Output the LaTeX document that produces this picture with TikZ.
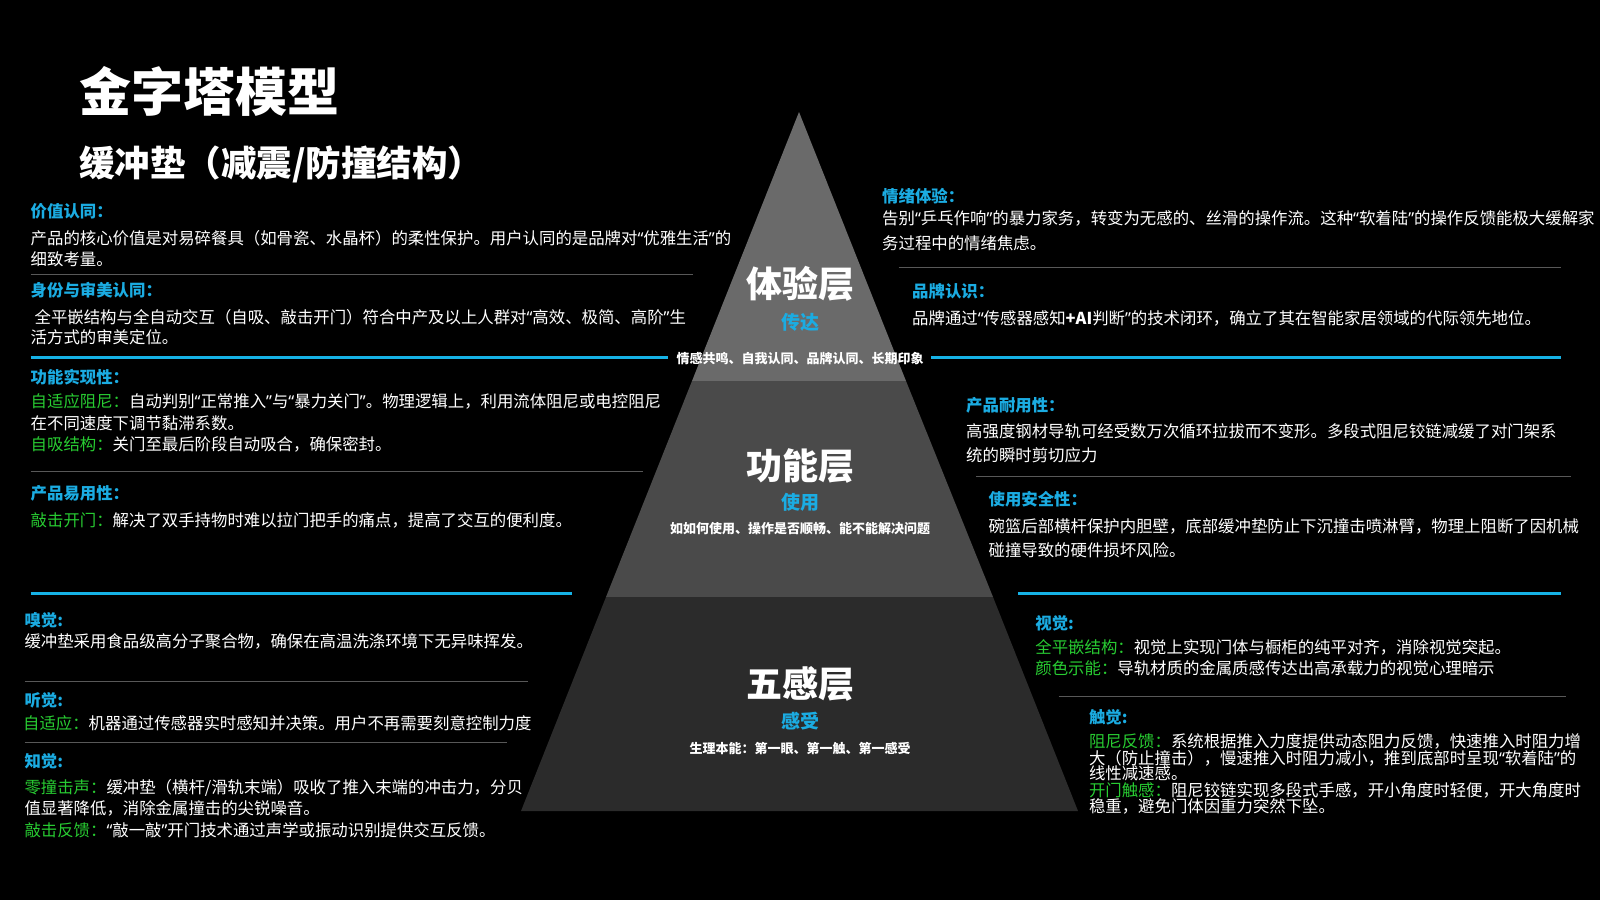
\documentclass[tikz,border=0pt]{standalone}
\usepackage{fontspec}
\setmainfont{Noto Sans CJK SC}
\newfontfamily\qfont{Noto Sans}
\definecolor{cyanc}{RGB}{27,172,226}
\definecolor{linec}{RGB}{22,178,230}
\definecolor{greenc}{RGB}{40,204,50}
\definecolor{grayl}{RGB}{88,88,88}
\definecolor{layA}{RGB}{106,106,106}
\definecolor{layB}{RGB}{74,74,74}
\definecolor{layC}{RGB}{43,43,43}
\newcommand\myoq{{\qfont “}}
\newcommand\mycq{{\qfont ”}}
\newcommand\grn[1]{\textcolor{greenc}{#1}}
\begin{document}
\begin{tikzpicture}[x=1pt,y=-1pt,
  bd/.style={anchor=base west,inner sep=0pt,text=white,font=\fontsize{16.4}{16.4}\selectfont},
  hd/.style={anchor=base west,inner sep=0pt,text=cyanc,font=\bfseries\fontsize{16.4}{16.4}\selectfont},
  bigl/.style={anchor=base,inner sep=0pt,text=white,font=\bfseries\fontsize{36}{36}\selectfont},
  subl/.style={anchor=base,inner sep=0pt,text=cyanc,font=\bfseries\fontsize{19}{19}\selectfont},
  smal/.style={anchor=base,inner sep=0pt,text=white,font=\bfseries\fontsize{13}{13}\selectfont},
  gline/.style={draw=grayl,line width=1.5pt},
  bline/.style={draw=linec,line width=3.5pt}
]
\useasboundingbox (0,0) rectangle (1600,900);
\fill[black] (0,0) rectangle (1600,900);

% pyramid
\fill[layA] (799,112) -- (906,381) -- (692,381) -- cycle;
\fill[layB] (692,381) -- (906,381) -- (993,597) -- (606,597) -- cycle;
\fill[layC] (606,597) -- (993,597) -- (1078,811) -- (521,811) -- cycle;

% title
\node[anchor=base west,inner sep=0pt,text=white,font=\bfseries\fontsize{52}{52}\selectfont] (title) at (79,111.5) {金字塔模型};
\node[anchor=base west,inner sep=0pt,text=white,font=\bfseries\fontsize{35.5}{35.5}\selectfont] (subtitle) at (79,176.5) {缓冲垫（减震/防撞结构）};

% pyramid labels
\node[bigl] (L1) at (800,297) {体验层};
\node[subl] (L1s) at (800,329) {传达};
\node[bigl] (L2) at (800,479) {功能层};
\node[subl] (L2s) at (800,509) {使用};
\node[smal] (L2t) at (800,533.5) {如如何使用、操作是否顺畅、能不能解决问题};
\node[bigl] (L3) at (800,697) {五感层};
\node[subl] (L3s) at (800,728.5) {感受};
\node[smal] (L3t) at (800,753) {生理本能：第一眼、第一触、第一感受};
\node[smal] (L1t) at (800,363.3) {情感共鸣、自我认同、品牌认同、长期印象};

% separator lines
\draw[bline] (30.5,357.5) -- (668,357.5);
\draw[bline] (931,357.5) -- (1561,357.5);
\draw[bline] (30.5,593.5) -- (572,593.5);
\draw[bline] (1018,593.5) -- (1561,593.5);
\draw[gline] (30.5,274.5) -- (693,274.5);
\draw[gline] (30.5,471.5) -- (643,471.5);
\draw[gline] (24.5,681.7) -- (528,681.7);
\draw[gline] (24.5,742.5) -- (507,742.5);
\draw[gline] (898.5,267.3) -- (1561,267.3);
\draw[gline] (976,476.5) -- (1571,476.5);
\draw[gline] (1058.5,696.7) -- (1565.5,696.7);

% left top
\node[hd] (a1) at (30.5,217.7) {价值认同：};
\node[bd] (a2) at (30.5,244.3) {产品的核心价值是对易碎餐具（如骨瓷、水晶杯）的柔性保护。用户认同的是品牌对\myoq 优雅生活\mycq 的};
\node[bd] (a3) at (30.5,265.3) {细致考量。};
\node[hd] (a4) at (30.5,296.5) {身份与审美认同：};
\node[bd] (a5) at (34.4,323.3) {全平嵌结构与全自动交互（自吸、敲击开门）符合中产及以上人群对\myoq 高效、极简、高阶\mycq 生};
\node[bd] (a6) at (30.5,343) {活方式的审美定位。};

% left middle
\node[hd] (b1) at (30.5,383.7) {功能实现性：};
\node[bd] (b2) at (30.5,407.7) {\grn{自适应阻尼：}自动判别\myoq 正常推入\mycq 与\myoq 暴力关门\mycq 。物理逻辑上，利用流体阻尼或电控阻尼};
\node[bd] (b3) at (30.5,429.3) {在不同速度下调节黏滞系数。};
\node[bd] (b4) at (30.5,450.3) {\grn{自吸结构：}关门至最后阶段自动吸合，确保密封。};
\node[hd] (b5) at (30.5,499.3) {产品易用性：};
\node[bd] (b6) at (30.5,526) {\grn{敲击开门：}解决了双手持物时难以拉门把手的痛点，提高了交互的便利度。};

% left bottom
\node[hd] (c1) at (24.3,626) {嗅觉:};
\node[bd] (c2) at (24.3,647.7) {缓冲垫采用食品级高分子聚合物，确保在高温洗涤环境下无异味挥发。};
\node[hd] (c3) at (24.3,706) {听觉:};
\node[bd] (c4) at (22.9,729.3) {\grn{自适应：}机器通过传感器实时感知并决策。用户不再需要刻意控制力度};
\node[hd] (c5) at (24.3,767.7) {知觉:};
\node[bd] (c6) at (24.3,793.3) {\grn{零撞击声：}缓冲垫（横杆/滑轨末端）吸收了推入末端的冲击力，分贝};
\node[bd] (c7) at (24.3,814.3) {值显著降低，消除金属撞击的尖锐噪音。};
\node[bd] (c8) at (24.3,836) {\grn{敲击反馈：}\myoq 敲一敲\mycq 开门技术通过声学或振动识别提供交互反馈。};

% right top
\node[hd] (d1) at (882,202.7) {情绪体验：};
\node[bd] (d2) at (882,224) {告别\myoq 乒乓作响\mycq 的暴力家务，转变为无感的、丝滑的操作流。这种\myoq 软着陆\mycq 的操作反馈能极大缓解家};
\node[bd] (d3) at (882,249.3) {务过程中的情绪焦虑。};
\node[hd] (d4) at (912,297.7) {品牌认识：};
\node[bd] (d5) at (912,324.3) {品牌通过\myoq 传感器感知\textbf{+AI}判断\mycq 的技术闭环，确立了其在智能家居领域的代际领先地位。};

% right middle
\node[hd] (e1) at (966,411) {产品耐用性：};
\node[bd] (e2) at (966,437.7) {高强度钢材导轨可经受数万次循环拉拔而不变形。多段式阻尼铰链减缓了对门架系};
\node[bd] (e3) at (966,461) {统的瞬时剪切应力};
\node[hd] (e4) at (988.4,505.3) {使用安全性：};
\node[bd] (e5) at (988.4,532.7) {碗篮后部横杆保护内胆壁，底部缓冲垫防止下沉撞击喷淋臂，物理上阻断了因机械};
\node[bd] (e6) at (988.4,556) {碰撞导致的硬件损坏风险。};

% right bottom
\node[hd] (f1) at (1035.2,629.3) {视觉:};
\node[bd] (f2) at (1035.2,653.3) {\grn{全平嵌结构：}视觉上实现门体与橱柜的纯平对齐，消除视觉突起。};
\node[bd] (f3) at (1035.2,674.3) {\grn{颜色示能：}导轨材质的金属质感传达出高承载力的视觉心理暗示};
\node[hd] (f4) at (1088.8,723.7) {触觉:};
\node[bd] (f5) at (1088.8,747.7) {\grn{阻尼反馈：}系统根据推入力度提供动态阻力反馈，快速推入时阻力增};
\node[bd] (f6) at (1088.8,764.3) {大（防止撞击），慢速推入时阻力减小，推到底部时呈现\myoq 软着陆\mycq 的};
\node[bd] (f7) at (1088.8,779.3) {线性减速感。};
\node[bd] (f8) at (1088.8,796) {\grn{开门触感：}阻尼铰链实现多段式手感，开小角度时轻便，开大角度时};
\node[bd] (f9) at (1088.8,812) {稳重，避免门体因重力突然下坠。};
\end{tikzpicture}
\end{document}
